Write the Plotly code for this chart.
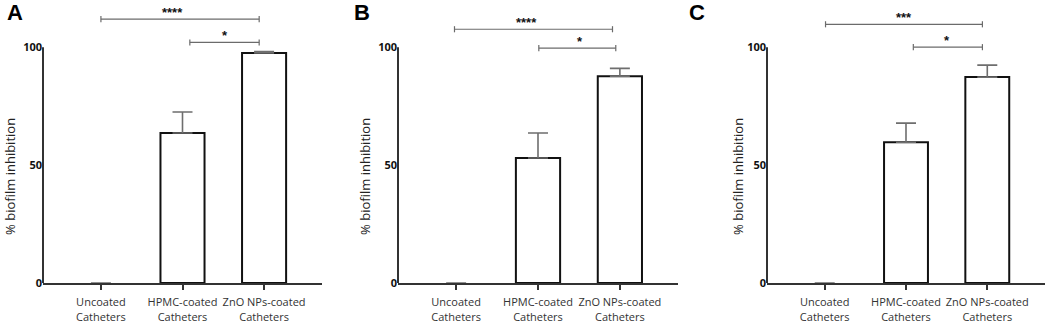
import plotly.graph_objects as go

categories = ["Uncoated<br>Catheters", "HPMC-coated<br>Catheters", "ZnO NPs-coated<br>Catheters"]
panel_labels = ["A", "B", "C"]
y_title = "% biofilm inhibition"

# % biofilm inhibition (mean) and upper SD per panel
means = [
    [0, 63.6, 97.5],
    [0, 53.0, 87.7],
    [0, 59.7, 87.3],
]
errors = [
    [None, 8.9, 0.6],
    [None, 10.6, 3.3],
    [None, 8.1, 5.1],
]

# significance brackets per panel
sig_long_y = [111.9, 107.6, 109.7]
sig_long_x0 = [0.0, -0.02, 0.01]
sig_long_x1 = [1.94, 1.91, 1.94]
sig_long_label = ["****", "****", "***"]
sig_long_label_x = [0.88, 0.86, 0.98]

sig_short_y = [102.0, 99.6, 100.0]
sig_short_x0 = [1.09, 1.01, 1.09]
sig_short_x1 = [1.94, 1.95, 1.94]
sig_short_label = ["*", "*", "*"]
sig_short_label_x = [1.52, 1.51, 1.51]

y_ticks = [0, 50, 100]

W, H = 1052, 326
x_domains = [[43 / W, 322 / W], [398 / W, 678 / W], [767 / W, 1045 / W]]
letter_x = [15, 362, 697]
ytitle_x = [10, 365, 738]

AX = "#333333"
SIG = "#6b6b6b"
FONT = "Open Sans, Lato, sans-serif"

fig = go.Figure()
shapes = []
annotations = []

for i in range(3):
    sfx = "" if i == 0 else str(i + 1)
    xa, ya = "x" + sfx, "y" + sfx
    fig.add_trace(go.Bar(
        x=[0, 1, 2], y=means[i],
        xaxis=xa, yaxis=ya,
        width=0.54,
        marker=dict(color="white",
                    line=dict(color="#111111", width=[0 if v == 0 else 2 for v in means[i]])),
        error_y=dict(type="data", array=errors[i], arrayminus=[0, 0, 0], symmetric=False,
                     color="#6e6e6e", thickness=1.6, width=10),
        showlegend=False,
    ))
    fig.layout["xaxis" + sfx] = dict(
        domain=x_domains[i], anchor=ya, range=[-0.71, 2.71],
        tickmode="array", tickvals=[0, 1, 2], ticktext=categories,
        tickangle=0, automargin=False, ticklabelstandoff=3,
        ticks="outside", ticklen=5, tickwidth=1.5, tickcolor=AX,
        showline=True, linecolor=AX, linewidth=2,
        showgrid=False, zeroline=False, fixedrange=True,
        tickfont=dict(family=FONT, size=11, color="#333333"),
    )
    fig.layout["yaxis" + sfx] = dict(
        domain=[0, 1], anchor=xa, range=[0, 120], automargin=False,
        tickmode="array", tickvals=y_ticks, ticktext=[str(v) for v in y_ticks],
        ticks="", showline=False, showgrid=False, zeroline=False, fixedrange=True,
        tickfont=dict(family=FONT, size=11, color="#111111", weight="bold"),
        ticklabelstandoff=0,
    )
    shapes.append(dict(type="line", xref=xa + " domain", yref=ya, x0=0, x1=0, y0=0, y1=100,
                       line=dict(color=AX, width=2)))
    for (yy, x0, x1, lab, lx) in [
        (sig_long_y[i], sig_long_x0[i], sig_long_x1[i], sig_long_label[i], sig_long_label_x[i]),
        (sig_short_y[i], sig_short_x0[i], sig_short_x1[i], sig_short_label[i], sig_short_label_x[i]),
    ]:
        shapes.append(dict(type="line", xref=xa, yref=ya, x0=x0, x1=x1, y0=yy, y1=yy,
                           line=dict(color=SIG, width=1.2)))
        for xe in (x0, x1):
            shapes.append(dict(type="line", xref=xa, yref=ya, x0=xe, x1=xe, y0=yy - 1.3, y1=yy + 1.3,
                               line=dict(color=SIG, width=1.2)))
        annotations.append(dict(xref=xa, yref=ya, x=lx, y=yy, text=lab, showarrow=False,
                                yanchor="bottom", yshift=-3,
                                font=dict(family="Arial", size=13, color="#111111", weight="bold")))
    annotations.append(dict(xref="paper", yref=ya, x=ytitle_x[i] / W, y=45, xanchor="center",
                            yanchor="middle", textangle=-90, text=y_title, showarrow=False,
                            font=dict(family=FONT, size=13, color="#222222")))
    annotations.append(dict(xref="paper", yref="paper", x=letter_x[i] / W, y=1.0, xanchor="center",
                            yanchor="top", yshift=2, text="<b>" + panel_labels[i] + "</b>", showarrow=False,
                            font=dict(family="Arial", size=22, color="#000000")))

fig.update_layout(
    width=W, height=H,
    margin=dict(l=0, r=0, t=0, b=43),
    paper_bgcolor="white", plot_bgcolor="white",
    shapes=shapes, annotations=annotations,
)

fig.write_html("out.html", config={"displayModeBar": False},
               post_script="document.body.style.margin='0';")
